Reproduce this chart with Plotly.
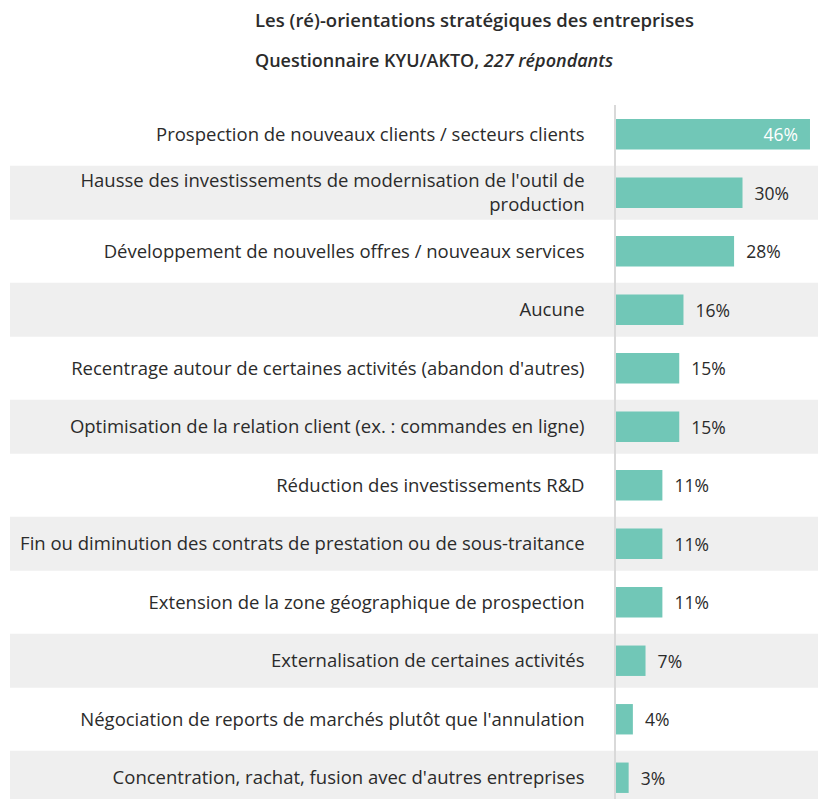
import plotly.graph_objects as go

categories = [
    "Prospection de nouveaux clients / secteurs clients",
    "Hausse des investissements de modernisation de l'outil de<br>production",
    "Développement de nouvelles offres / nouveaux services",
    "Aucune",
    "Recentrage autour de certaines activités (abandon d'autres)",
    "Optimisation de la relation client (ex. : commandes en ligne)",
    "Réduction des investissements R&D",
    "Fin ou diminution des contrats de prestation ou de sous-traitance",
    "Extension de la zone géographique de prospection",
    "Externalisation de certaines activités",
    "Négociation de reports de marchés plutôt que l'annulation",
    "Concentration, rachat, fusion avec d'autres entreprises",
]
values = [46, 30, 28, 16, 15, 15, 11, 11, 11, 7, 4, 3]

W, H = 818, 799
L, T = 616, 105
plot_w = W - L
plot_h = H - T
row_px = 58.5

positions = list(range(len(categories)))
textpos = ["inside"] + ["outside"] * (len(categories) - 1)
NB = "\u00a0"
labels = [f"{v}%{NB * 2}" if p == "inside" else f"{NB}{NB}{v}%" for v, p in zip(values, textpos)]

FONT = "Open Sans"
bar_color = "#71C7B7"
text_color = "#2B2B2B"

fig = go.Figure()
fig.add_trace(go.Bar(
    y=positions,
    x=values,
    orientation="h",
    marker=dict(color=bar_color, line=dict(width=0)),
    width=0.52,
    text=labels,
    textposition=textpos,
    insidetextanchor="end",
    insidetextfont=dict(color="white", size=17.5, family=FONT),
    outsidetextfont=dict(color=text_color, size=17.5, family=FONT),
    constraintext="none",
    cliponaxis=False,
    hoverinfo="skip",
))

shapes = []
for i in positions:
    if i % 2 == 1:
        shapes.append(dict(
            type="rect", xref="paper", yref="y",
            x0=(10 - L) / plot_w, x1=1,
            y0=i - 0.46, y1=i + 0.46,
            fillcolor="#EFEFEF", line=dict(width=0), layer="below",
        ))

y_bottom = -0.5 + plot_h / row_px

def px_to_paper_x(px):
    return (px - L) / plot_w

def px_to_paper_y(py):
    return (H - py) / plot_h

annotations = [
    dict(text="Les (ré)-orientations stratégiques des entreprises",
         xref="paper", yref="paper", x=px_to_paper_x(474), y=px_to_paper_y(20),
         xanchor="center", yanchor="middle", showarrow=False,
         font=dict(family=FONT, size=18.5, color=text_color, weight=600)),
    dict(text="Questionnaire KYU/AKTO, <i>227 répondants</i>",
         xref="paper", yref="paper", x=px_to_paper_x(434), y=px_to_paper_y(60),
         xanchor="center", yanchor="middle", showarrow=False,
         font=dict(family=FONT, size=18, color=text_color, weight=600)),
]

fig.update_layout(
    width=W, height=H,
    margin=dict(l=L, r=0, t=T, b=0, pad=0),
    paper_bgcolor="white", plot_bgcolor="white",
    showlegend=False,
    shapes=shapes,
    annotations=annotations,
    xaxis=dict(range=[0, 47.9], visible=False, fixedrange=True),
    yaxis=dict(
        range=[y_bottom, -0.5],
        tickmode="array", tickvals=positions, ticktext=categories,
        showline=True, linecolor="#D9D9D9", linewidth=1.5,
        showgrid=False, zeroline=False, ticks="",
        ticklabelstandoff=26,
        tickfont=dict(family=FONT, size=18.5, color=text_color),
        fixedrange=True,
    ),
)

fig.write_html("out.html", config={"displayModeBar": False},
               post_script="document.body.style.margin='0';")
